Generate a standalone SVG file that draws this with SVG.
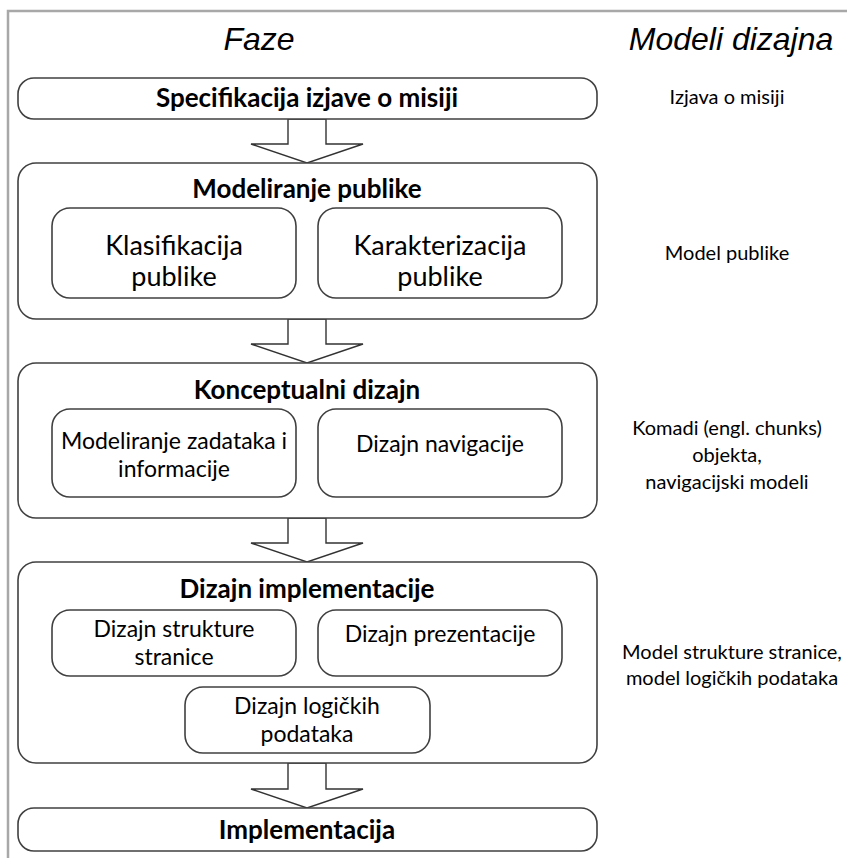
<svg xmlns="http://www.w3.org/2000/svg" width="847" height="858" viewBox="0 0 847 858">
<style>
.box{fill:#fff;stroke:#404040;stroke-width:1.6}
.arr{fill:#fff;stroke:#333;stroke-width:1.4;stroke-linejoin:miter}
.hdr{font-family:"Liberation Sans",Arial,sans-serif;font-style:italic;font-size:32px;fill:#000;text-anchor:middle}
.ttl{font-family:Lato,"Open Sans",sans-serif;font-weight:bold;font-size:26px;fill:#000;text-anchor:middle}
.in1{font-family:Lato,"Open Sans",sans-serif;font-size:27px;fill:#000;text-anchor:middle}
.in2{font-family:Lato,"Open Sans",sans-serif;font-size:23px;fill:#000;text-anchor:middle}
.rt{font-family:Lato,"Open Sans",sans-serif;font-size:20px;fill:#000;text-anchor:middle}
</style>
<rect width="847" height="858" fill="#fff"/>
<path d="M8,858 V11 H847" fill="none" stroke="#a8a8a8" stroke-width="2.5"/>
<text class="hdr" x="259" y="50">Faze</text>
<text class="hdr" x="731" y="50">Modeli dizajna</text>

<g id="connectors">
<polygon class="arr" points="288,119 288,144 251,144 307,163 363,144 326,144 326,119"/>
<polygon class="arr" points="288,319 288,344 251,344 307,363 363,344 326,344 326,319"/>
<polygon class="arr" points="288,518 288,543 251,543 307,562 363,543 326,543 326,518"/>
<polygon class="arr" points="288,763 288,789 251,789 307,808 363,789 326,789 326,763"/>
</g>

<g id="spec">
<rect class="box" x="18" y="78" width="579" height="41" rx="16"/>
<text class="ttl" x="307" y="107">Specifikacija izjave o misiji</text>
</g>

<g id="modeliranje-publike">
<rect class="box" x="18" y="163" width="579" height="156" rx="18"/>
<text class="ttl" x="307" y="198">Modeliranje publike</text>
</g>
<g id="klasifikacija">
<rect class="box" x="52" y="208" width="244" height="90" rx="18"/>
<text class="in1" x="174" y="255">Klasifikacija</text>
<text class="in1" x="174" y="286">publike</text>
</g>
<g id="karakterizacija">
<rect class="box" x="318" y="208" width="244" height="90" rx="18"/>
<text class="in1" x="440" y="255">Karakterizacija</text>
<text class="in1" x="440" y="286">publike</text>
</g>

<g id="konceptualni">
<rect class="box" x="18" y="363" width="579" height="155" rx="18"/>
<text class="ttl" x="307" y="399">Konceptualni dizajn</text>
</g>
<g id="modeliranje-zadataka">
<rect class="box" x="52" y="409" width="244" height="88" rx="18"/>
<text class="in2" x="174" y="449">Modeliranje zadataka i</text>
<text class="in2" x="174" y="477">informacije</text>
</g>
<g id="dizajn-navigacije">
<rect class="box" x="318" y="409" width="244" height="88" rx="18"/>
<text class="in2" x="440" y="452">Dizajn navigacije</text>
</g>

<g id="dizajn-implementacije">
<rect class="box" x="18" y="562" width="579" height="201" rx="18"/>
<text class="ttl" x="307" y="598">Dizajn implementacije</text>
</g>
<g id="dizajn-strukture">
<rect class="box" x="52" y="610" width="244" height="66" rx="18"/>
<text class="in2" x="174" y="637">Dizajn strukture</text>
<text class="in2" x="174" y="665">stranice</text>
</g>
<g id="dizajn-prezentacije">
<rect class="box" x="318" y="610" width="244" height="66" rx="18"/>
<text class="in2" x="440" y="642">Dizajn prezentacije</text>
</g>
<g id="dizajn-logickih">
<rect class="box" x="185" y="687" width="245" height="66" rx="18"/>
<text class="in2" x="307" y="714">Dizajn logičkih</text>
<text class="in2" x="307" y="742">podataka</text>
</g>

<g id="implementacija">
<rect class="box" x="18" y="808" width="579" height="43" rx="16"/>
<text class="ttl" x="307" y="839">Implementacija</text>
</g>

<g id="modeli">
<text class="rt" x="727" y="104">Izjava o misiji</text>
<text class="rt" x="727" y="260">Model publike</text>
<text class="rt" x="727" y="435">Komadi (engl. chunks)</text>
<text class="rt" x="727" y="462">objekta,</text>
<text class="rt" x="727" y="489">navigacijski modeli</text>
<text class="rt" x="732" y="659">Model strukture stranice,</text>
<text class="rt" x="732" y="685">model logičkih podataka</text>
</g>
</svg>
